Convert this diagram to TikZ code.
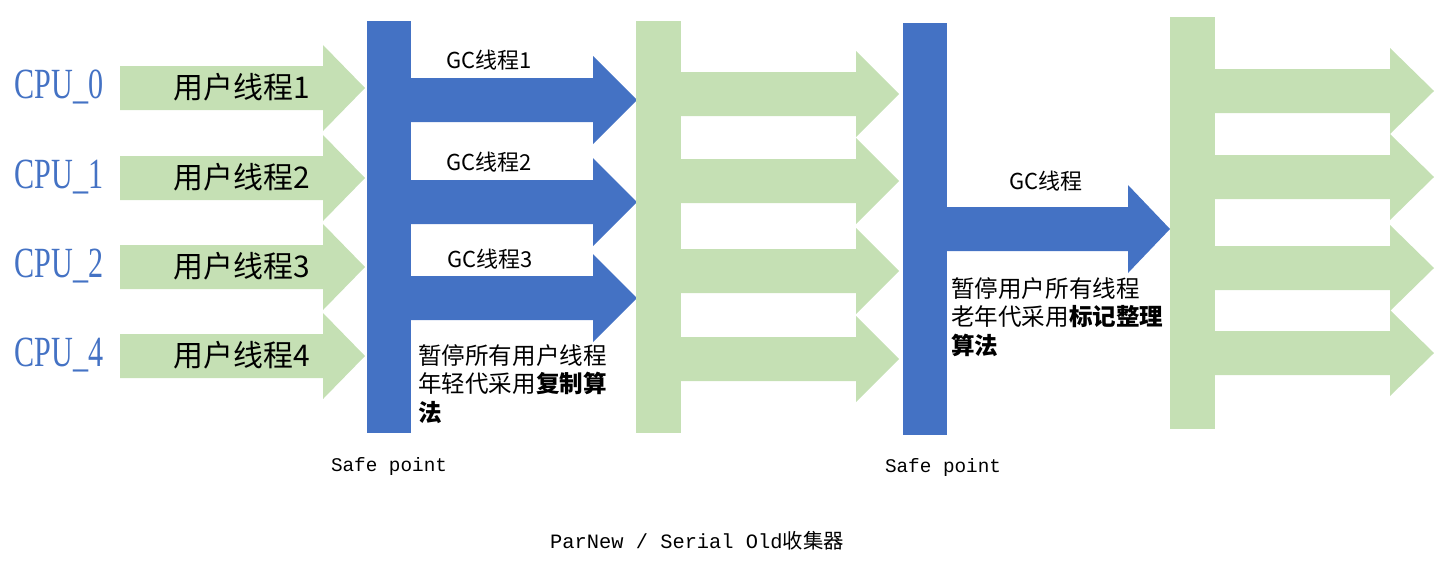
\documentclass[tikz,border=0pt]{standalone}
\usepackage{fontspec}
\setmainfont{Noto Sans CJK SC}
\setmonofont{Liberation Mono}
\newfontfamily\cpufont{Liberation Serif}[FakeStretch=0.7]
\usetikzlibrary{positioning}
\definecolor{lightgreen}{HTML}{C5E0B4}
\definecolor{officeblue}{HTML}{4472C4}
\pgfdeclarelayer{edgelayer}
\pgfdeclarelayer{nodelayer}
\pgfsetlayers{edgelayer,nodelayer,main}
\tikzstyle{none}=[inner sep=0pt]
\tikzstyle{greenblock}=[fill=lightgreen]
\tikzstyle{blueblock}=[fill=officeblue]
\tikzstyle{cpu}=[inner sep=0pt,text=officeblue,font=\cpufont\fontsize{24.5}{28}\selectfont]
\tikzstyle{thread}=[inner sep=0pt,font=\fontsize{17}{20}\selectfont]
\tikzstyle{gc}=[inner sep=0pt,font=\fontsize{12.5}{15}\selectfont]
\tikzstyle{note}=[inner sep=0pt,align=left,anchor=north west,font=\fontsize{13.4}{16.2}\selectfont]
\tikzstyle{caption}=[inner sep=0pt,font=\fontsize{11}{13}\selectfont]

\begin{document}
\begin{tikzpicture}[x=0.02cm,y=-0.02cm]
	\useasboundingbox (0,0) rectangle (1456,566);
	\begin{pgfonlayer}{edgelayer}
		% user threads
		\fill [style=greenblock] (120,66) -- (323,66) -- (323,45) -- (365,88) -- (323,131) -- (323,110) -- (120,110) -- cycle;
		\fill [style=greenblock] (120,156) -- (323,156) -- (323,135) -- (365,178) -- (323,221) -- (323,200) -- (120,200) -- cycle;
		\fill [style=greenblock] (120,245) -- (323,245) -- (323,224) -- (365,267) -- (323,310) -- (323,289) -- (120,289) -- cycle;
		\fill [style=greenblock] (120,334) -- (323,334) -- (323,313) -- (365,356) -- (323,399) -- (323,378) -- (120,378) -- cycle;
		% first safe point, young generation
		\fill [style=blueblock] (367,21) rectangle (411,433);
		\fill [style=blueblock] (411,78) -- (593,78) -- (593,56) -- (637,100) -- (593,144) -- (593,122) -- (411,122) -- cycle;
		\fill [style=blueblock] (411,180) -- (593,180) -- (593,158) -- (637,202) -- (593,246) -- (593,224) -- (411,224) -- cycle;
		\fill [style=blueblock] (411,276) -- (593,276) -- (593,254) -- (637,298) -- (593,342) -- (593,320) -- (411,320) -- cycle;
		% user threads again
		\fill [style=greenblock] (636,21) rectangle (681,433);
		\fill [style=greenblock] (681,72) -- (856,72) -- (856,51) -- (899,94) -- (856,137) -- (856,116) -- (681,116) -- cycle;
		\fill [style=greenblock] (681,159) -- (856,159) -- (856,138) -- (899,181) -- (856,224) -- (856,203) -- (681,203) -- cycle;
		\fill [style=greenblock] (681,249) -- (856,249) -- (856,228) -- (899,271) -- (856,314) -- (856,293) -- (681,293) -- cycle;
		\fill [style=greenblock] (681,337) -- (856,337) -- (856,316) -- (899,359) -- (856,402) -- (856,381) -- (681,381) -- cycle;
		% second safe point, old generation
		\fill [style=blueblock] (903,23) rectangle (947,435);
		\fill [style=blueblock] (947,207) -- (1128,207) -- (1128,185) -- (1170,229) -- (1128,273) -- (1128,251) -- (947,251) -- cycle;
		% user threads resume
		\fill [style=greenblock] (1170,17) rectangle (1215,429);
		\fill [style=greenblock] (1215,69) -- (1390,69) -- (1390,48) -- (1434,91) -- (1390,134) -- (1390,113) -- (1215,113) -- cycle;
		\fill [style=greenblock] (1215,155) -- (1390,155) -- (1390,134) -- (1434,177) -- (1390,220) -- (1390,199) -- (1215,199) -- cycle;
		\fill [style=greenblock] (1215,246) -- (1390,246) -- (1390,225) -- (1434,268) -- (1390,311) -- (1390,290) -- (1215,290) -- cycle;
		\fill [style=greenblock] (1215,331) -- (1390,331) -- (1390,310) -- (1434,353) -- (1390,396) -- (1390,375) -- (1215,375) -- cycle;
	\end{pgfonlayer}
	\begin{pgfonlayer}{nodelayer}
		\node [style=cpu] (0) at (59,87) {CPU\_0};
		\node [style=cpu] (1) at (59,177) {CPU\_1};
		\node [style=cpu] (2) at (59,266) {CPU\_2};
		\node [style=cpu] (3) at (59,355) {CPU\_4};
		\node [style=thread] (4) at (242,87) {用户线程1};
		\node [style=thread] (5) at (242,177) {用户线程2};
		\node [style=thread] (6) at (242,266) {用户线程3};
		\node [style=thread] (7) at (242,355) {用户线程4};
		\node [style=gc] (8) at (489,60) {GC线程1};
		\node [style=gc] (9) at (489,162) {GC线程2};
		\node [style=gc] (10) at (490,259) {GC线程3};
		\node [style=note] (11) at (418,344) {暂停所有用户线程\\年轻代采用\textbf{复制算}\\\textbf{法}};
		\node [style=gc] (12) at (1046,181) {GC线程};
		\node [style=note] (13) at (951,277) {暂停用户所有线程\\老年代采用\textbf{标记整理}\\\textbf{算法}};
		\node [style=caption] (14) at (389,466) {\ttfamily Safe point};
		\node [style=caption] (15) at (943,467) {\ttfamily Safe point};
		\node [style=caption,font=\fontsize{11.6}{14}\selectfont] (16) at (697,541) {{\ttfamily ParNew / Serial Old}收集器};
	\end{pgfonlayer}
\end{tikzpicture}
\end{document}
